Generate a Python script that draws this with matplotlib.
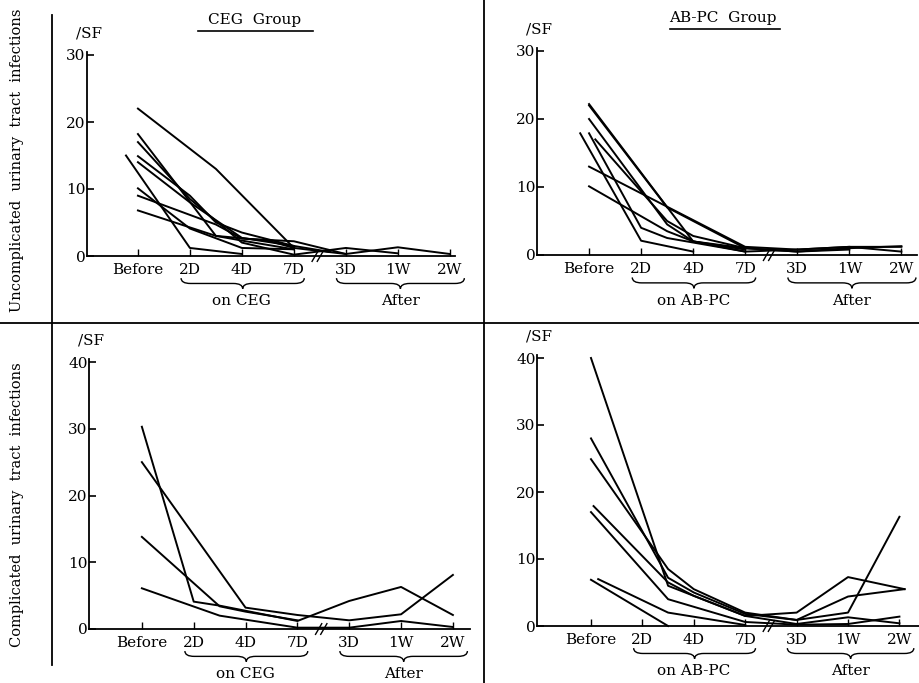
import matplotlib
matplotlib.use('Agg')
import matplotlib.pyplot as plt
from matplotlib.path import Path
from matplotlib.patches import PathPatch
from matplotlib.lines import Line2D

plt.rcParams['font.family'] = 'DejaVu Serif'

# x positions: Before=0, 2D=1, 4D=2, 7D=3, 3D=4, 1W=5, 2W=6
tick_labels = ['Before', '2D', '4D', '7D', '3D', '1W', '2W']

# CEG group, uncomplicated UTI  (cells /SF)
ceg_unc = [
    ([0, 1.5, 3, 4, 5, 6], [22, 13, 1.2, 0.3, 1.3, 0.3]),
    ([-0.23, 1, 2], [15, 1.2, 0.3]),
    ([0, 1.5, 2.5, 3], [18.2, 3, 2.3, 1.2]),
    ([0, 1, 2, 3, 4, 5], [17, 8.5, 2, 0.2, 1.2, 0.4]),
    ([0, 1, 1.5, 2, 3, 3.7], [14.9, 9, 5, 3.5, 1.5, 0.6]),
    ([0, 1, 2, 3], [14, 8, 2.7, 1.5]),
    ([0, 1, 2, 3], [10.1, 4.1, 1.2, 1.0]),
    ([0, 1.5, 2, 3, 4], [9, 4.7, 2.6, 2.2, 0.3]),
    ([0, 1.5, 2, 3], [6.8, 3, 2.3, 1.0]),
]

# AB-PC group, uncomplicated UTI
abpc_unc = [
    ([0, 2, 3, 4, 5, 6], [22.2, 2.0, 0.5, 0.8, 1.2, 1.2]),
    ([0, 1.5, 3, 4, 5, 6], [22, 7, 1, 0.5, 1, 1.3]),
    ([0, 1.5, 2, 3], [20, 4.5, 2, 0.8]),
    ([-0.17, 1, 2], [17.9, 2.1, 0.5]),
    ([0, 1, 1.5, 3], [17.9, 4, 2.5, 0.5]),
    ([0.12, 1.5, 2, 3, 4, 5], [17, 5, 2.8, 1, 0.5, 0.8]),
    ([0, 1.5, 3, 4, 5, 6], [13, 7.1, 1.2, 0.8, 1.2, 0.5]),
    ([0, 1.5, 2, 3], [10.1, 3.5, 2, 1]),
]

# CEG group, complicated UTI
ceg_comp = [
    ([0, 1, 1.5, 3, 4, 5, 6], [30.3, 4.1, 3.5, 1.2, 4.2, 6.3, 2.1]),
    ([0, 2, 3, 4, 5, 6], [25, 3.2, 2.1, 1.3, 2.2, 8.1]),
    ([0, 1.5, 2, 3], [13.8, 3.4, 2.6, 1.3]),
    ([0, 1.5, 3, 4, 5, 6], [6.1, 2.0, 0.2, 0.2, 1.2, 0.3]),
]

# AB-PC group, complicated UTI
abpc_comp = [
    ([0, 1.5, 2, 3, 4, 5, 6.1], [40, 6, 4.5, 1.5, 2.0, 7.3, 5.5]),
    ([0, 1.5, 2, 3, 4, 5, 6.1], [28, 7.2, 5, 1.8, 0.9, 4.4, 5.5]),
    ([0, 1.5, 2, 3, 4, 5, 6], [24.9, 8.5, 5.5, 2, 0.9, 2.0, 16.3]),
    ([0.05, 1.5, 2, 3, 4, 5, 6], [17.9, 6.5, 4.5, 1.5, 0.3, 1.3, 0.4]),
    ([0, 1.5, 3, 4, 5, 6], [17, 4, 0.6, 0.2, 0.3, 1.4]),
    ([0.14, 1.5, 3], [7.0, 2.0, 0.15]),
    ([0, 1.5], [6.9, 0]),
]

W, H = 920, 683
fig = plt.figure(figsize=(9.2, 6.83), dpi=100)


def px_axes(left, right, bottom, top):
    return fig.add_axes([left / W, 1 - bottom / H, (right - left) / W, (bottom - top) / H])


def brace(ax, x1, x2, y, h):
    xm = (x1 + x2) / 2
    r = 0.18
    verts = [(x1, y + h), (x1, y), (x1 + r, y), (xm - r, y), (xm, y), (xm, y - h),
             (xm, y), (xm + r, y), (x2 - r, y), (x2, y), (x2, y + h)]
    codes = [Path.MOVETO, Path.CURVE3, Path.CURVE3, Path.LINETO, Path.CURVE3, Path.CURVE3,
             Path.CURVE3, Path.CURVE3, Path.LINETO, Path.CURVE3, Path.CURVE3]
    ax.add_patch(PathPatch(Path(verts, codes), fill=False, lw=1.0, ec='black', clip_on=False))


def panel(ax, series, ymax, xlim, drug):
    for xs, ys in series:
        ax.plot(xs, ys, color='black', lw=1.4, clip_on=False)
    ax.set_xlim(*xlim)
    ax.set_ylim(0, ymax + 0.5)
    ax.set_yticks(range(0, ymax + 1, 10))
    ax.set_xticks(range(7))
    ax.set_xticklabels(tick_labels)
    for s in ['top', 'right']:
        ax.spines[s].set_visible(False)
    for s in ['left', 'bottom']:
        ax.spines[s].set_linewidth(1.3)
    ax.tick_params(axis='y', direction='in', length=5, width=1.2, labelsize=11, pad=1)
    ax.tick_params(axis='x', direction='in', length=5, width=1.0, labelsize=11, pad=5)
    ax.patch.set_visible(False)
    # axis break marks between 7D and 3D
    for dx in (-0.05, 0.05):
        ax.plot([3.4 + dx, 3.52 + dx], [-0.8, 0.8], color='black', lw=1.0, clip_on=False)
    brace(ax, 0.83, 3.2, -4.1, 0.8)
    brace(ax, 3.82, 6.28, -4.1, 0.8)
    ax.text(2.0, -6.7, 'on ' + drug, ha='center', va='center', fontsize=11)
    ax.text(5.05, -6.7, 'After', ha='center', va='center', fontsize=11)
    ax.text(xlim[0] - 0.22, ymax + 3.2, '/SF', ha='left', va='center', fontsize=11)


ax1 = px_axes(87, 455, 256, 256 - 30.5 * 6.7)
panel(ax1, ceg_unc, 30, (-0.98, 6.1), 'CEG')

ax2 = px_axes(537, 917, 255, 255 - 30.5 * 6.8)
panel(ax2, abpc_unc, 30, (-1.0, 6.3), 'AB-PC')

ax3 = px_axes(89, 470, 629, 629 - 40.5 * 6.675)
panel(ax3, ceg_comp, 40, (-1.02, 6.33), 'CEG')

ax4 = px_axes(537, 920, 626, 626 - 40.5 * 6.7)
panel(ax4, abpc_comp, 40, (-1.05, 6.4), 'AB-PC')

# group titles with underline
fig.text(255 / W, 1 - 20 / H, 'CEG  Group', ha='center', va='center', fontsize=11)
fig.add_artist(Line2D([198 / W, 313 / W], [1 - 31 / H, 1 - 31 / H], color='black', lw=1.2))
fig.text(723 / W, 1 - 18 / H, 'AB-PC  Group', ha='center', va='center', fontsize=11)
fig.add_artist(Line2D([670 / W, 780 / W], [1 - 29 / H, 1 - 29 / H], color='black', lw=1.2))

# row labels
fig.text(17 / W, 1 - 160 / H, 'Uncomplicated  urinary  tract  infections', rotation=90,
         ha='center', va='center', fontsize=10.5)
fig.text(17 / W, 1 - 505 / H, 'Complicated  urinary  tract  infections', rotation=90,
         ha='center', va='center', fontsize=10.5)

# frame lines
fig.add_artist(Line2D([52 / W, 52 / W], [1 - 15 / H, 1 - 665 / H], color='black', lw=1.3))
fig.add_artist(Line2D([484 / W, 484 / W], [1.0, 0.0], color='black', lw=1.3))
fig.add_artist(Line2D([0, 1], [1 - 323 / H, 1 - 323 / H], color='black', lw=1.3))

fig.savefig('out.png', dpi=100)
